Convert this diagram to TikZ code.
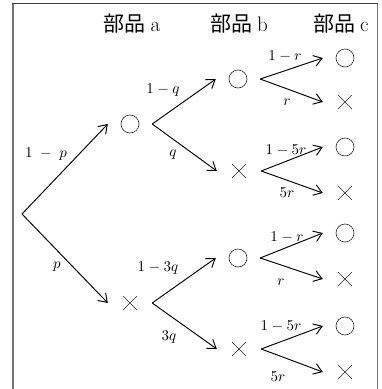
\documentclass[tikz,border=0pt]{standalone}
\usepackage{fontspec}
\newfontfamily\cjk{Noto Sans CJK JP}
\usetikzlibrary{arrows.meta}
\newcommand{\lbl}[1]{\scalebox{1.5}{$#1$}}
\begin{document}
\begin{tikzpicture}[x=1pt,y=-1pt,
  sym/.style={minimum width=44pt,minimum height=22pt,inner sep=0pt},
  okbox/.style={sym,path picture={\draw[black!85,line width=0.6pt] (path picture bounding box.center) circle (9pt);}},
  ngbox/.style={sym,path picture={\draw[black!85,line width=0.6pt]
      ([shift={(-6.8pt,-6.8pt)}]path picture bounding box.center) -- ++(13.6pt,13.6pt)
      ([shift={(-6.8pt,6.8pt)}]path picture bounding box.center) -- ++(13.6pt,-13.6pt);}},
  br/.style={line width=0.95pt,-{Straight Barb[length=8pt,width=11pt]}},
  lab/.style={inner sep=0pt},
  hd/.style={font=\fontsize{21}{23}\selectfont,inner sep=0pt,anchor=base}]
\useasboundingbox (0,0) rectangle (382,389);
% frame
\draw[black!55,line width=1.6pt] (13,389) -- (13,3.5);
\draw[black!75,line width=0.8pt] (12.2,3.5) -- (378,3.5);
\draw[black!55,line width=1pt] (377.5,3.5) -- (377.5,389);
% headings
\node[hd] (ha) at (132,31) {{\cjk 部品}\hspace{5pt}a};
\node[hd] (hb) at (239,31) {{\cjk 部品}\hspace{5pt}b};
\node[hd] (hc) at (341,31) {{\cjk 部品}\hspace{5pt}c};
% nodes
\coordinate (root) at (22,214);
\node[okbox] (a1) at (130,124) {};
\node[ngbox] (a2) at (130,303) {};
\node[okbox] (b1) at (238,79) {};
\node[ngbox] (b2) at (239,171) {};
\node[okbox] (b3) at (238,258) {};
\node[ngbox] (b4) at (239,349) {};
\node[okbox] (c1) at (345,58) {};
\node[ngbox] (c2) at (345,102) {};
\node[okbox] (c3) at (345,147) {};
\node[ngbox] (c4) at (345,193) {};
\node[okbox] (c5) at (345,233) {};
\node[ngbox] (c6) at (345,279) {};
\node[okbox] (c7) at (345,326) {};
\node[ngbox] (c8) at (345,372) {};
% connectors
\draw[br] (root) -- (a1.west);
\draw[br] (root) -- (a2.west);
\draw[br] (a1.east) -- (b1.west);
\draw[br] (a1.east) -- (b2.west);
\draw[br] (a2.east) -- (b3.west);
\draw[br] (a2.east) -- (b4.west);
\draw[br] (b1.east) -- (c1.west);
\draw[br] (b1.east) -- (c2.west);
\draw[br] (b2.east) -- (c3.west);
\draw[br] (b2.east) -- (c4.west);
\draw[br] (b3.east) -- (c5.west);
\draw[br] (b3.east) -- (c6.west);
\draw[br] (b4.east) -- (c7.west);
\draw[br] (b4.east) -- (c8.west);
% labels
\node[lab] (l1) at (46,154) {\lbl{1\;-\;p}};
\node[lab] (l2) at (57,267) {\lbl{p}};
\node[lab] (l3) at (163,90) {\lbl{1-q}};
\node[lab] (l4) at (173,155) {\lbl{q}};
\node[lab] (l5) at (158,268) {\lbl{1-3q}};
\node[lab] (l6) at (169,337) {\lbl{3q}};
\node[lab] (l7) at (285,56) {\lbl{1-r}};
\node[lab] (l8) at (287,102) {\lbl{r}};
\node[lab] (l9) at (286,150) {\lbl{1-5r}};
\node[lab] (l10) at (287,193) {\lbl{5r}};
\node[lab] (l11) at (287,237) {\lbl{1-r}};
\node[lab] (l12) at (281,282) {\lbl{r}};
\node[lab] (l13) at (281,326) {\lbl{1-5r}};
\node[lab] (l14) at (278,377) {\lbl{5r}};
\end{tikzpicture}
\end{document}
